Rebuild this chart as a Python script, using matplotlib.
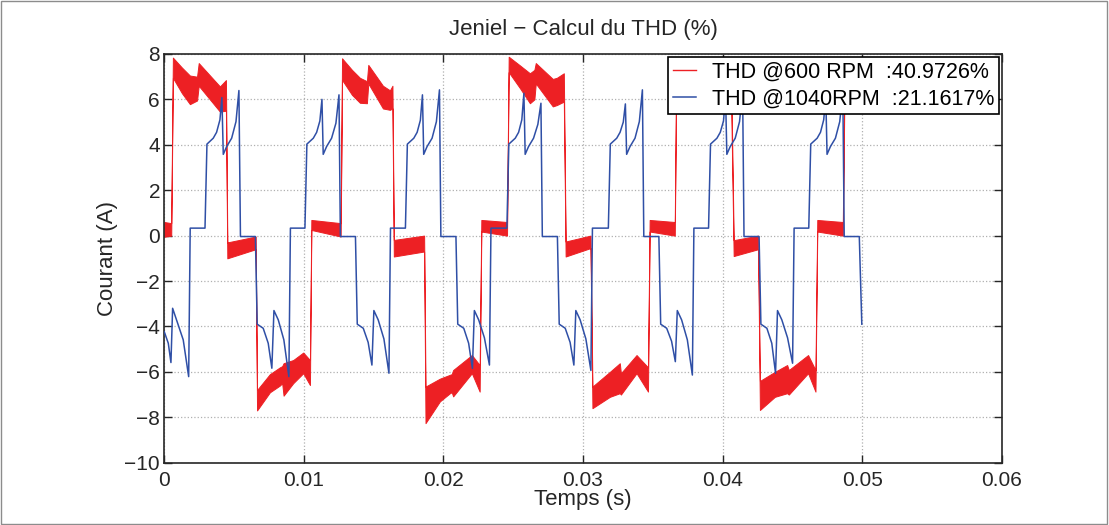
import matplotlib
matplotlib.use("Agg")
import matplotlib.pyplot as plt
from matplotlib.patches import Rectangle

plt.rcParams["font.family"] = ["Liberation Sans", "DejaVu Sans"]

# time in ms, current in A
# 1040 RPM trace
blue_t = [
    0.00, 0.29, 0.48, 0.60, 1.00, 1.36, 1.75, 1.86,
    2.92, 3.06, 3.51, 3.75, 3.99, 4.13, 4.23, 4.47, 4.83, 5.14, 5.35, 5.46,
    6.53, 6.66, 7.09, 7.45, 7.71, 7.86, 8.17, 8.57, 8.93, 9.04,
    10.08, 10.22, 10.68, 10.92, 11.15, 11.30, 11.39, 11.63, 11.99, 12.30, 12.52, 12.62,
    13.70, 13.83, 14.26, 14.61, 14.88, 15.02, 15.33, 15.74, 16.10, 16.21,
    17.28, 17.42, 17.88, 18.12, 18.35, 18.50, 18.59, 18.83, 19.19, 19.50, 19.72, 19.82,
    20.90, 21.03, 21.46, 21.81, 22.08, 22.22, 22.53, 22.94, 23.30, 23.41,
    24.55, 24.69, 25.15, 25.39, 25.62, 25.77, 25.86, 26.10, 26.46, 26.77, 26.99, 27.09,
    28.17, 28.30, 28.73, 29.08, 29.35, 29.49, 29.80, 30.21, 30.57, 30.68,
    31.82, 31.96, 32.42, 32.66, 32.89, 33.04, 33.13, 33.37, 33.73, 34.04, 34.26, 34.36,
    35.44, 35.57, 36.00, 36.35, 36.62, 36.76, 37.07, 37.48, 37.84, 37.95,
    39.00, 39.14, 39.60, 39.84, 40.07, 40.22, 40.31, 40.55, 40.91, 41.22, 41.44, 41.54,
    42.62, 42.75, 43.18, 43.53, 43.80, 43.94, 44.25, 44.66, 45.02, 45.13,
    46.18, 46.32, 46.78, 47.02, 47.25, 47.40, 47.49, 47.73, 48.09, 48.40, 48.62, 48.72,
    49.80, 49.98,
]
blue_i = [
    -4.23, -4.74, -5.59, -3.20, -3.93, -4.59, -6.21, 0.33,
    0.33, 4.03, 4.29, 4.55, 5.10, 6.08, 3.58, 3.92, 4.29, 5.02, 6.39, -0.04,
    -0.04, -3.90, -4.08, -4.74, -5.84, -3.30, -3.71, -4.59, -6.21, 0.33,
    0.33, 4.03, 4.29, 4.55, 5.05, 6.00, 3.58, 3.92, 4.29, 4.95, 6.20, -0.04,
    -0.04, -3.90, -4.08, -4.70, -5.70, -3.30, -3.71, -4.55, -6.06, 0.33,
    0.33, 4.03, 4.29, 4.55, 5.08, 6.20, 3.58, 3.92, 4.29, 5.02, 6.42, -0.04,
    -0.04, -3.90, -4.08, -4.74, -5.85, -3.30, -3.71, -4.50, -5.70, 0.33,
    0.33, 4.03, 4.29, 4.55, 5.10, 6.27, 3.58, 3.92, 4.29, 4.90, 5.83, -0.04,
    -0.04, -3.90, -4.08, -4.70, -5.70, -3.30, -3.71, -4.55, -5.94, 0.33,
    0.33, 4.03, 4.29, 4.55, 5.00, 5.80, 3.58, 3.92, 4.29, 5.02, 6.42, -0.04,
    -0.04, -3.90, -4.08, -4.65, -5.55, -3.30, -3.71, -4.59, -6.14, 0.33,
    0.33, 4.03, 4.29, 4.55, 5.05, 6.10, 3.58, 3.92, 4.29, 5.02, 6.40, -0.04,
    -0.04, -3.90, -4.08, -4.74, -6.06, -3.30, -3.71, -4.50, -5.62, 0.33,
    0.33, 4.03, 4.29, 4.55, 5.10, 6.10, 3.58, 3.92, 4.29, 5.02, 6.40, -0.04,
    -0.04, -3.90,
]

# 600 RPM trace: ripple band given as lower / upper envelope
red_t = [
    0.00, 0.50,
    0.62, 1.27, 1.84, 2.35,
    2.47, 3.99, 4.42,
    4.52, 6.55,
    6.65, 7.57, 8.29, 8.45,
    8.55, 9.24, 9.96, 10.44,
    10.54, 12.64,
    12.74, 13.45, 14.02, 14.52,
    14.62, 15.67, 16.17, 16.35,
    16.45, 18.62,
    18.72, 19.75, 20.47, 20.60,
    20.70, 22.04, 22.60,
    22.72, 24.56,
    24.68, 25.48, 26.20, 26.52,
    26.62, 27.84, 28.13, 28.63,
    28.76, 30.54,
    30.68, 31.93, 32.64,
    32.72, 33.84, 34.66,
    34.78, 36.58,
    36.69, 37.44, 38.10, 38.45,
    38.55, 39.81, 40.62,
    40.80, 42.55,
    42.68, 43.75, 44.63,
    44.75, 46.13, 46.66,
    46.79, 48.62,
    48.75, 49.98,
]
red_lo = [
    -0.05, 0.00,
    6.95, 6.27, 5.79, 5.95,
    6.60, 5.46, 5.50,
    -1.00, -0.60,
    -7.70, -6.90, -6.60, -6.50,
    -7.05, -6.50, -6.06, -6.58,
    0.25, -0.04,
    6.86, 6.20, 5.85, 5.83,
    6.70, 5.60, 5.54, 5.60,
    -0.92, -0.70,
    -8.26, -7.30, -6.94, -6.90,
    -7.08, -6.06, -6.87,
    0.18, 0.00,
    7.20, 6.50, 5.83, 6.00,
    6.70, 5.69, 5.75, 5.90,
    -0.92, -0.55,
    -7.60, -7.10, -6.94,
    -7.00, -6.06, -6.87,
    0.18, 0.00,
    7.00, 6.30, 5.85, 6.00,
    6.70, 5.60, 5.80,
    -0.90, -0.60,
    -7.68, -7.10, -6.94,
    -7.00, -6.06, -6.87,
    0.18, 0.00,
    7.00, 6.10,
]
red_hi = [
    0.60, 0.55,
    7.84, 7.40, 7.05, 7.00,
    7.60, 6.57, 6.85,
    -0.30, -0.04,
    -6.80, -6.10, -5.80, -5.75,
    -5.62, -5.48, -5.15, -5.48,
    0.69, 0.55,
    7.81, 7.30, 6.95, 6.80,
    7.52, 6.60, 6.40, 6.60,
    -0.19, 0.00,
    -6.65, -6.30, -6.13, -6.10,
    -5.92, -5.26, -5.70,
    0.69, 0.60,
    7.88, 7.50, 7.15, 7.30,
    7.60, 6.90, 6.95, 7.15,
    -0.26, 0.00,
    -6.65, -6.00, -5.62,
    -6.06, -5.26, -5.80,
    0.69, 0.60,
    7.85, 7.30, 7.00, 7.10,
    7.60, 6.80, 7.00,
    -0.20, 0.00,
    -6.40, -6.00, -5.70,
    -5.92, -5.26, -5.92,
    0.69, 0.60,
    7.85, 7.10,
]

red = "#ed2024"
blue = "#2f4fa6"


def main():
    fig = plt.figure(figsize=(11.09, 5.25), dpi=100)
    ax = fig.add_axes([0.1481, 0.1187, 0.7551, 0.7785])

    rt = [t / 1000 for t in red_t]
    bt = [t / 1000 for t in blue_t]

    ax.fill_between(rt, red_lo, red_hi, facecolor=red, edgecolor=red, linewidth=0.7, zorder=2)
    ax.plot([], [], color=red, linewidth=1.0, label="THD @600 RPM  :40.9726%")
    ax.plot(bt, blue_i, color=blue, linewidth=1.1, zorder=3, label="THD @1040RPM  :21.1617%")

    ax.set_xlim(0, 0.06)
    ax.set_ylim(-10, 8)
    ax.set_xticks([0, 0.01, 0.02, 0.03, 0.04, 0.05, 0.06])
    ax.set_xticklabels(["0", "0.01", "0.02", "0.03", "0.04", "0.05", "0.06"])
    ax.set_yticks(range(-10, 9, 2))

    ax.grid(True, linestyle=":", color="#b0b0b0", linewidth=0.9)
    ax.tick_params(direction="in", length=5.5, width=1, labelsize=15,
                   top=True, right=True, colors="#262626")
    ax.tick_params(axis="x", pad=6)
    ax.tick_params(axis="y", pad=3)
    for s in ax.spines.values():
        s.set_color("#262626")
        s.set_linewidth(1.2)

    ax.set_title("Jeniel \u2212 Calcul du THD (%)", fontsize=16, pad=13.5, color="#262626")
    ax.set_xlabel("Temps (s)", fontsize=16, labelpad=-1, color="#262626")
    ax.set_ylabel("Courant (A)", fontsize=16, labelpad=5, color="#262626")

    leg = ax.legend(loc="upper right", fontsize=15.5, fancybox=False, framealpha=1,
                    edgecolor="black", borderaxespad=0.14, borderpad=0.2,
                    handlelength=1.07, handletextpad=0.75, labelspacing=0.3)
    leg.get_frame().set_linewidth(1.2)
    leg.set_zorder(10)

    # thin frame round the whole picture
    fig.patches.append(Rectangle((0.001, 0.002), 0.997, 0.996, transform=fig.transFigure,
                                 fill=False, edgecolor="#8c8c8c", linewidth=1))

    fig.savefig("out.png", dpi=100)


if __name__ == "__main__":
    main()
